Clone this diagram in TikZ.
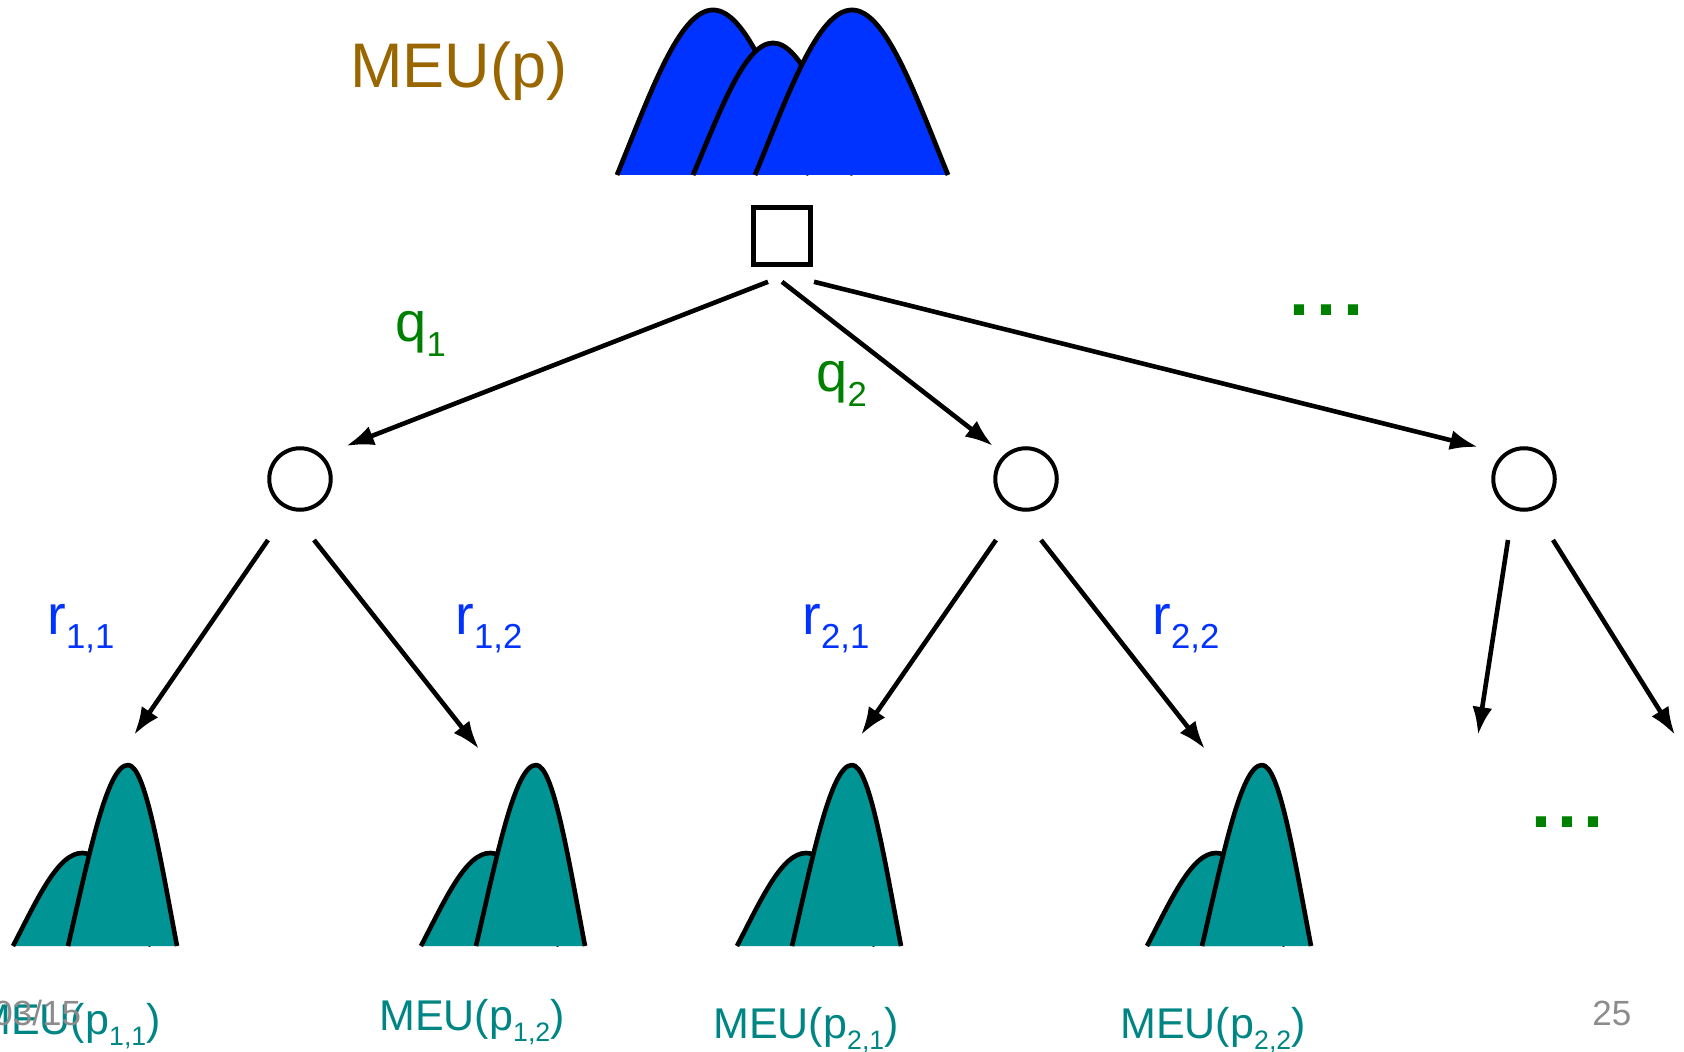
\documentclass[tikz,border=0pt]{standalone}
\usepackage{fontspec}
\setmainfont{Liberation Sans}
\usepackage{graphicx}
\usetikzlibrary{arrows.meta}
\definecolor{HillBlue}{HTML}{0033FF}
\definecolor{HillTeal}{HTML}{009494}
\definecolor{LabelTeal}{HTML}{008585}
\definecolor{Umber}{HTML}{996600}
\definecolor{Leaf}{HTML}{008000}
\definecolor{Prob}{HTML}{0033FF}
\definecolor{SlideGray}{HTML}{8C8C8C}
\newcommand{\lowidx}[1]{\raisebox{-0.5ex}{\scalebox{0.62}{#1}}}
% hill: style, left x, peak x, right x, base y, peak y
\newcommand{\hill}[6]{%
  \pgfmathsetmacro{\hxa}{#2+0.35*(#3-#2)}%
  \pgfmathsetmacro{\hxb}{#2+0.65*(#3-#2)}%
  \pgfmathsetmacro{\hxc}{#3+0.35*(#4-#3)}%
  \pgfmathsetmacro{\hxd}{#3+0.65*(#4-#3)}%
  \pgfmathsetmacro{\hym}{#5+0.5*(#6-#5)}%
  \draw[#1] (#2,#5) .. controls (\hxa,\hym) and (\hxb,#6) .. (#3,#6)
    .. controls (\hxc,#6) and (\hxd,\hym) .. (#4,#5);}
\tikzset{
  decision/.style={
    rectangle, draw=black, line width=2.3pt, fill=white,
    minimum size=28.5pt, inner sep=0pt
  },
  chance/.style={
    circle, draw=black, line width=2pt, fill=white,
    minimum size=30.75pt, inner sep=0pt
  },
  branch/.style={-{Latex[length=14pt,width=10pt]}, line width=2.3pt, draw=black},
  bluehill/.style={draw=black, line width=2.4pt, fill=HillBlue, line join=round},
  tealhill/.style={draw=black, line width=2.3pt, fill=HillTeal, line join=round},
  toplabel/.style={anchor=base west, inner sep=0pt, text=Umber,
    font=\fontsize{31.5pt}{32pt}\selectfont},
  qlabel/.style={anchor=base west, inner sep=0pt, text=Leaf,
    font=\fontsize{28pt}{28pt}\selectfont},
  rlabel/.style={anchor=base west, inner sep=0pt, text=Prob,
    font=\fontsize{28pt}{28pt}\selectfont},
  meulabel/.style={anchor=base west, inner sep=0pt, text=LabelTeal,
    font=\fontsize{21.5pt}{22pt}\selectfont},
  dots/.style={anchor=base west, inner sep=0pt, text=Leaf,
    font=\fontsize{36pt}{36pt}\selectfont\bfseries},
  pagemark/.style={anchor=base west, inner sep=0pt, text=SlideGray,
    font=\fontsize{17.5pt}{18pt}\selectfont}
}
\begin{document}
\begin{tikzpicture}[x=0.5pt,y=-0.5pt]
  \useasboundingbox (0,0) rectangle (1684,1052);
  % value at the root
  \hill{bluehill}{617}{713}{809}{175}{10}
  \hill{bluehill}{693}{773}{853}{175}{43}
  \hill{bluehill}{755}{852}{948}{175}{10}
  \node[toplabel] (meu) at (350,88) {MEU(p)};
  \node[decision] (dec) at (782,236) {};
  \node[chance] (c1) at (300,479) {};
  \node[chance] (c2) at (1026,479) {};
  \node[chance] (c3) at (1524,479) {};
  % values at the leaves
  \foreach \dx/\nm in {0/h11,408/h12,724/h21,1134/h22}{
    \begin{scope}[shift={(\dx,0)}]
      \hill{tealhill}{13}{82}{151}{946}{853}
      \hill{tealhill}{68}{128}{177}{946}{765}
      \coordinate (\nm) at (128,765);
    \end{scope}
  }
  \coordinate (e1) at (1478,735);
  \coordinate (e2) at (1675,735);
  \draw[branch] ([shift={(-14,15)}]dec.south) -- ([shift={(46,-33)}]c1.center);
  \draw[branch] ([shift={(0,15)}]dec.south) -- ([shift={(-33,-33)}]c2.center);
  \draw[branch] ([shift={(32,15)}]dec.south) -- ([shift={(-46,-32)}]c3.center);
  \draw[branch] ([shift={(-32,61)}]c1.center) -- ([shift={(6,-30)}]h11);
  \draw[branch] ([shift={(14,61)}]c1.center) -- ([shift={(-57,-16)}]h12);
  \draw[branch] ([shift={(-30,61)}]c2.center) -- ([shift={(9,-30)}]h21);
  \draw[branch] ([shift={(15,61)}]c2.center) -- ([shift={(-57,-16)}]h22);
  \draw[branch] ([shift={(-16,61)}]c3.center) -- (e1);
  \draw[branch] ([shift={(29,61)}]c3.center) -- (e2);
  \node[qlabel] (q1) at (395,342) {q\lowidx{1}};
  \node[qlabel] (q2) at (816,392) {q\lowidx{2}};
  \node[dots] (qdots) at (1289,316) {.\kern3.5pt.\kern3.5pt.};
  \node[rlabel] (r11) at (47,634) {r\lowidx{1,1}};
  \node[rlabel] (r12) at (455,634) {r\lowidx{1,2}};
  \node[rlabel] (r21) at (802,634) {r\lowidx{2,1}};
  \node[rlabel] (r22) at (1152,634) {r\lowidx{2,2}};
  \node[dots] (rdots) at (1531,827) {.\kern3pt.\kern3pt.};
  \node[meulabel] (m11) at (-25,1034) {MEU(p\lowidx{1,1})};
  \node[meulabel] (m12) at (379,1030) {MEU(p\lowidx{1,2})};
  \node[meulabel] (m21) at (713,1038) {MEU(p\lowidx{2,1})};
  \node[meulabel] (m22) at (1120,1038) {MEU(p\lowidx{2,2})};
  \node[pagemark] (date) at (-7,1025) {03/15};
  \node[pagemark] (page) at (1592,1025) {25};
\end{tikzpicture}
\end{document}
